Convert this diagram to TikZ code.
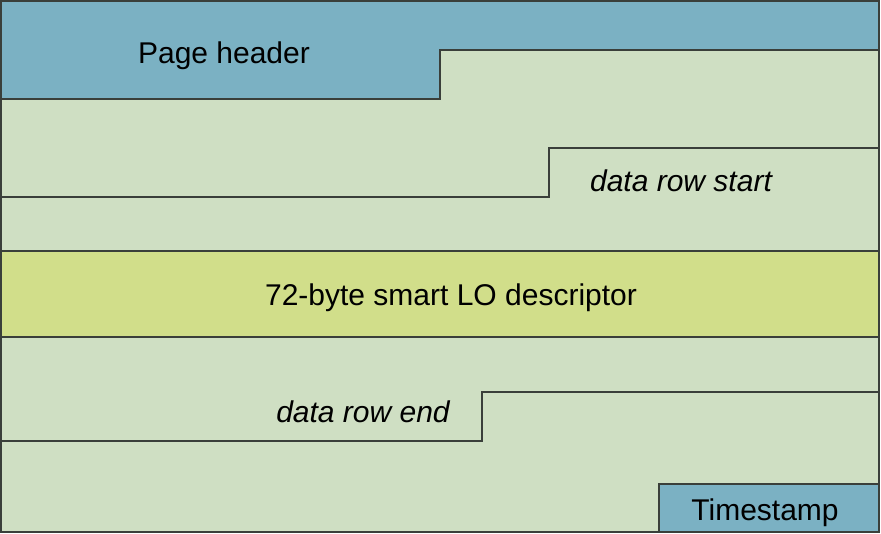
\documentclass[tikz,border=0pt]{standalone}
\usepackage{fontspec}
\setmainfont{Liberation Sans}
\definecolor{hdrblue}{HTML}{7BB1C3}
\definecolor{rowgreen}{HTML}{CFDFC3}
\definecolor{descgreen}{HTML}{D1DE8A}
\definecolor{edge}{HTML}{3A3F3A}
\tikzset{
  edgeline/.style={draw=edge, line width=1.1pt},
  lbl/.style={font=\fontsize{30}{34}\selectfont, inner sep=0pt, anchor=base},
  ilbl/.style={lbl, font=\fontsize{30}{34}\selectfont\itshape}
}
\begin{document}
\begin{tikzpicture}[x=1pt,y=-1pt]
\useasboundingbox (0,0) rectangle (881,534);
% background page
\fill[rowgreen] (1,1) rectangle (879,532);
% page header
\fill[hdrblue] (1,1) -- (879,1) -- (879,50) -- (440,50) -- (440,99) -- (1,99) -- cycle;
\draw[edgeline] (1,99) -- (440,99) -- (440,50) -- (879,50);
% data row start
\draw[edgeline] (1,197) -- (549,197) -- (549,148) -- (879,148);
% descriptor
\fill[descgreen] (1,251) rectangle (879,337);
\draw[edgeline] (1,251) -- (879,251);
\draw[edgeline] (1,337) -- (879,337);
% data row end
\draw[edgeline] (1,441) -- (482,441) -- (482,392) -- (879,392);
% timestamp
\fill[hdrblue] (659,484) rectangle (879,532);
\draw[edgeline] (659,532) -- (659,484) -- (879,484);
% outer frame
\draw[edgeline] (1,1) rectangle (879,532);
% labels
\node[lbl] (hdr) at (224,63.5) {Page header};
\node[ilbl] (drs) at (681,191.5) {data row start};
\node[lbl] (desc) at (451,305.5) {72-byte smart LO descriptor};
\node[ilbl] (dre) at (363,422.5) {data row end};
\node[lbl] (ts) at (765,520.5) {Timestamp};
\end{tikzpicture}
\end{document}
